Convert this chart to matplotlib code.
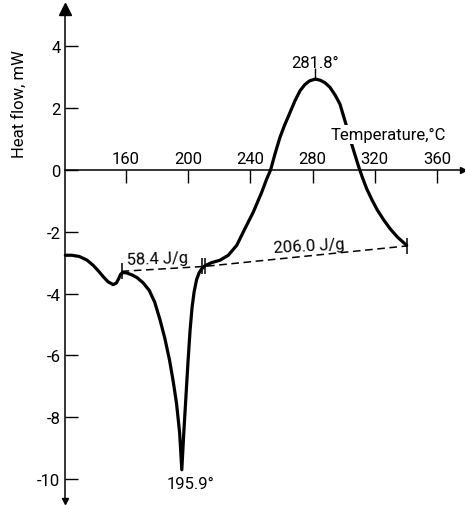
import matplotlib
matplotlib.use("Agg")
import matplotlib.pyplot as plt

plt.rcParams['font.family'] = ['Roboto', 'DejaVu Sans']
plt.rcParams['axes.unicode_minus'] = False

# DSC trace: temperature (deg C) vs heat flow (mW)
temp = [121, 125, 130, 135, 139, 142.5, 145.5, 148.5, 151.8, 153.8, 155.3,
        156.5, 157.8, 160.4, 164, 167, 171, 175, 178.5, 181.9, 185, 188,
        190.4, 192.5, 194.5, 195.9, 197.3, 198.6, 199.9, 201.2, 202.5, 203.8,
        205.4, 207, 208.7, 210.8, 215, 220.5, 225.8, 231.2, 236.5, 241.9,
        247.3, 250.5, 253, 256, 259, 262, 265.5, 268.5, 271.9, 275, 278,
        281.8, 285, 288, 291.2, 294.5, 297.6, 300.8, 303, 305.1, 307.3,
        309.4, 312, 314.8, 318, 321.2, 325.5, 329.8, 334.5, 339.4, 340.5]
heat = [-2.76, -2.76, -2.80, -2.92, -3.09, -3.28, -3.46, -3.62, -3.71, -3.66,
        -3.52, -3.38, -3.32, -3.33, -3.40, -3.48, -3.65, -3.90, -4.28, -4.85,
        -5.45, -6.15, -6.85, -7.55, -8.50, -9.70, -8.40, -7.30, -6.20, -5.20,
        -4.45, -3.95, -3.55, -3.33, -3.20, -3.10, -3.00, -2.92, -2.76, -2.44,
        -1.90, -1.36, -0.72, -0.29, 0.0, 0.55, 1.05, 1.45, 1.86, 2.22, 2.56,
        2.76, 2.88, 2.94, 2.90, 2.82, 2.67, 2.42, 2.13, 1.59, 1.22, 0.84,
        0.48, 0.14, -0.24, -0.61, -0.95, -1.26, -1.60, -1.90, -2.17, -2.39,
        -2.44]

# integration baselines
base_t = [157.2, 210.8, 340.5]
base_hf = [-3.28, -3.12, -2.46]
enthalpy = ["58.4 J/g", "206.0 J/g"]

peak_t = [195.9, 281.8]
peak_hf = [-9.70, 2.94]

xticks = [160, 200, 240, 280, 320, 360]
yticks = [4, 2, 0, -2, -4, -6, -8, -10]

fig = plt.figure(figsize=(4.65, 5.06), dpi=100)
ax = fig.add_axes([0, 0, 1, 1])
ax.set_xlim(79, 378)
ax.set_ylim(-10.84, 5.53)

ax.plot(temp, heat, color='black', lw=2.3, solid_capstyle='round',
        solid_joinstyle='round', zorder=3)
ax.plot(base_t, base_hf, color='black', lw=1.1, ls=(0, (5, 3)), zorder=2)
ax.plot(base_t, base_hf, ls='none', marker='|', ms=11, mew=1.1,
        color='black', zorder=4)
ax.plot([base_t[1] - 1.6], [base_hf[1]], marker='|', ms=11, mew=1.1,
        color='black', zorder=4)
ax.plot([peak_t[1]], [peak_hf[1] + 0.15], marker='|', ms=9, mew=1.0,
        color='black', zorder=4)

ax.text(160.6, -3.03, enthalpy[0], fontsize=12, rotation=2, ha='left',
        va='baseline')
ax.text(254.7, -2.65, enthalpy[1], fontsize=12, rotation=3, ha='left',
        va='baseline')
ax.text(peak_t[1], 3.22, f"{peak_t[1]}°", fontsize=12, ha='center',
        va='bottom')
ax.text(201.5, -10.3, f"{peak_t[0]}°", fontsize=12, ha='center',
        va='baseline')
ax.text(291.8, 1.0, "Temperature,°C", fontsize=12, ha='left', va='baseline',
        zorder=5, bbox=dict(facecolor='white', edgecolor='none', pad=1.5))

# axes drawn through the origin
for s in ['right', 'bottom']:
    ax.spines[s].set_visible(False)
ax.spines['left'].set_position(('data', 121))
ax.spines['left'].set_bounds(-10.7, 5.1)
ax.spines['top'].set_position(('data', 0))
ax.spines['top'].set_bounds(121, 376)
for s in ['left', 'top']:
    ax.spines[s].set_linewidth(1.1)

ax.xaxis.tick_top()
ax.set_xticks(xticks)
ax.set_xticklabels([str(v) for v in xticks])
ax.set_yticks(yticks)
ax.set_yticklabels([str(v) for v in yticks])
ax.tick_params(axis='x', direction='in', length=9, width=1.0, pad=2.5,
               labelsize=12)
ax.tick_params(axis='y', direction='in', length=9, width=1.0, pad=3.5,
               labelsize=12)

ax.plot([121], [5.2], marker='^', ms=8, color='black', clip_on=False)
ax.plot([121], [-10.72], marker='v', ms=4, color='black', clip_on=False)
ax.plot([377], [0], marker='>', ms=4, color='black', clip_on=False)

ax.set_ylabel("Heat flow, mW", fontsize=12)
ax.yaxis.set_label_coords(0.058, 0.795)

fig.savefig("out.png", dpi=100, facecolor='white')
